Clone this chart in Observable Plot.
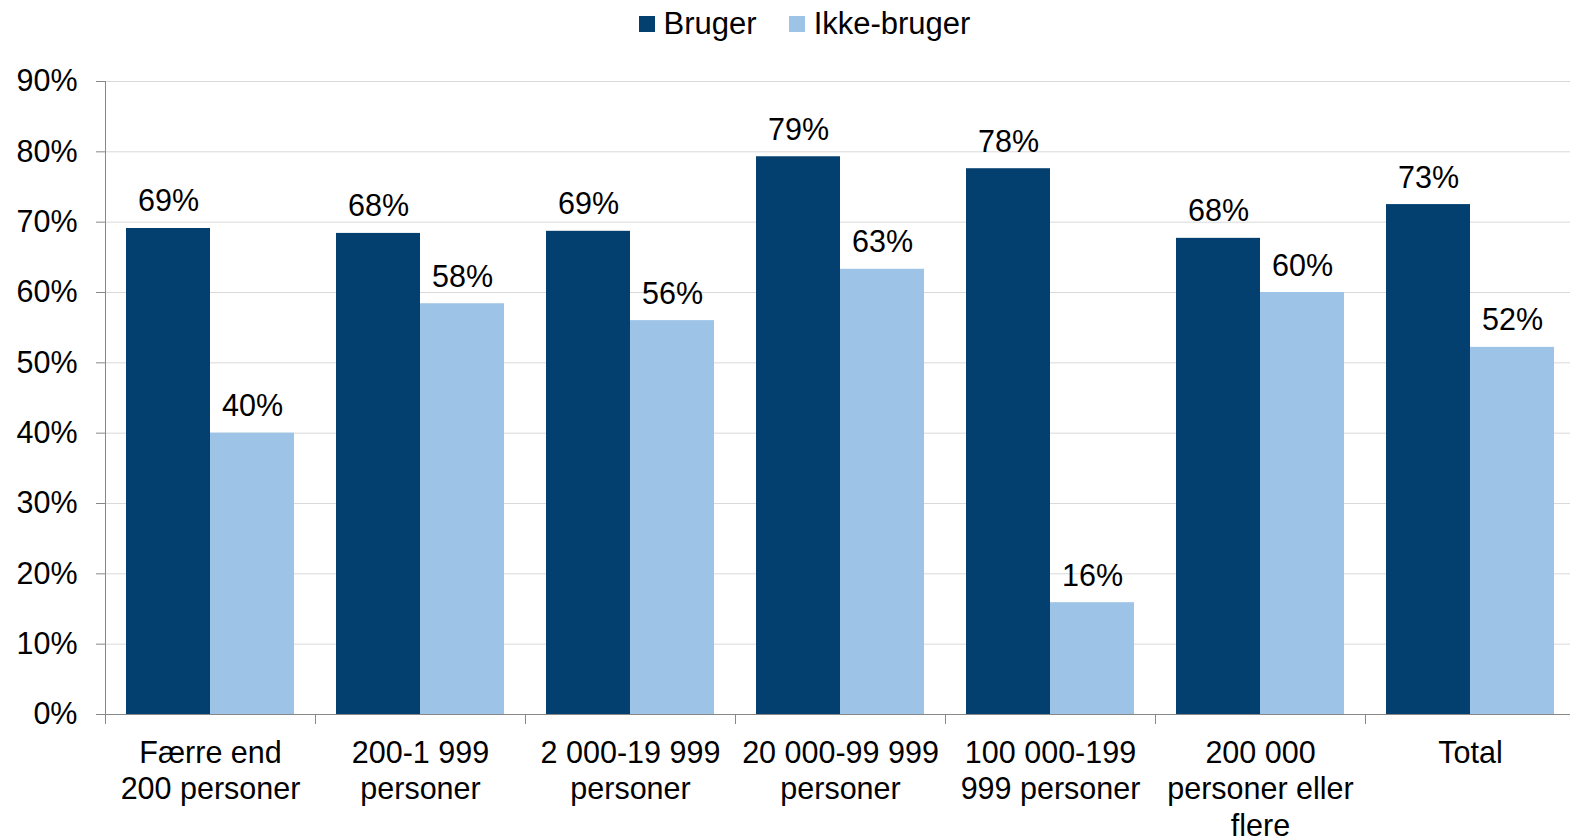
<!DOCTYPE html>
<html><head><meta charset="utf-8">
<script src="https://cdn.jsdelivr.net/npm/d3@7"></script>
<script src="https://cdn.jsdelivr.net/npm/@observablehq/plot@0.6"></script>
<style>
body{margin:0;background:#fff;font-family:"Liberation Sans",Arial,sans-serif;overflow:hidden}
#legend{height:48px;display:flex;justify-content:center;align-items:center;gap:32px;font-size:31px;padding-left:39px;box-sizing:border-box;color:#000}
.item{display:flex;align-items:center;gap:9px}
.sw{width:16px;height:16px;display:inline-block}
</style></head><body><div id="legend"></div><div id="chart"></div>
<script>
const categories = ["Færre end 200 personer","200-1 999 personer","2 000-19 999 personer","20 000-99 999 personer","100 000-199 999 personer","200 000 personer eller flere","Total"];
const tickLabels = ["Færre end\n200 personer","200-1 999\npersoner","2 000-19 999\npersoner","20 000-99 999\npersoner","100 000-199\n999 personer","200 000\npersoner eller\nflere","Total"];
const series = ["Bruger","Ikke-bruger"];
const bruger = [69.1,68.4,68.7,79.3,77.6,67.7,72.5];
const ikkeBruger = [40.0,58.4,56.0,63.3,15.9,60.0,52.2];
const yTicks = [0,10,20,30,40,50,60,70,80,90];
const colors = ["#03406f","#9dc3e6"];

const width = 1570, height = 791, marginLeft = 105, marginRight = -5, marginTop = 33, marginBottom = 125;
const bw = (width - marginLeft - marginRight) / categories.length;
const fs = 30.5;

const leg = document.getElementById("legend");
series.forEach((s,i)=>{
  const it = document.createElement("div"); it.className="item";
  const sw = document.createElement("span"); sw.className="sw"; sw.style.background=colors[i];
  const t = document.createElement("span"); t.textContent=s;
  it.appendChild(sw); it.appendChild(t); leg.appendChild(it);
});

const dB = categories.map((c,i)=>({cat:c, value:bruger[i]}));
const dI = categories.map((c,i)=>({cat:c, value:ikkeBruger[i]}));
const fmt = d => Math.round(d.value) + "%";

const chart = Plot.plot({
  width, height, marginLeft, marginRight, marginTop, marginBottom,
  style:{fontFamily:'"Liberation Sans", Arial, sans-serif', fontSize: fs + "px", color:"#000", background:"#fff"},
  x:{domain:categories, padding:0, axis:null},
  y:{domain:[0,90], ticks:yTicks, axis:null},
  marks:[
    Plot.gridY(yTicks.filter(t=>t>0), {stroke:"#d9d9d9", strokeOpacity:1}),
    Plot.barY(dB, {x:"cat", y:"value", fill:colors[0], insetLeft:0.1*bw, insetRight:0.5*bw}),
    Plot.barY(dI, {x:"cat", y:"value", fill:colors[1], insetLeft:0.5*bw, insetRight:0.1*bw}),
    Plot.text(dB, {x:"cat", y:"value", text:fmt, dx:-0.2*bw, dy:-17, lineAnchor:"bottom", fontSize:fs, fill:"#000"}),
    Plot.text(dI, {x:"cat", y:"value", text:fmt, dx:0.2*bw, dy:-17, lineAnchor:"bottom", fontSize:fs, fill:"#000"}),
    Plot.frame({anchor:"left", stroke:"#888"}),
    Plot.ruleY([0], {stroke:"#888"}),
    Plot.axisY({ticks:yTicks, tickSize:9, tickPadding:19, tickFormat:d=>d+"%", stroke:"#888", fill:"#000", fontSize:fs, label:null}),
    Plot.axisX({tickSize:10, text:null, dx:-bw/2, stroke:"#888", label:null}),
    Plot.axisX({tickSize:0, tickPadding:22, tickFormat:d=>tickLabels[categories.indexOf(d)], lineHeight:1.2, fontSize:fs, fill:"#000", label:null})
  ]
});
document.getElementById("chart").appendChild(chart);
</script></body></html>
